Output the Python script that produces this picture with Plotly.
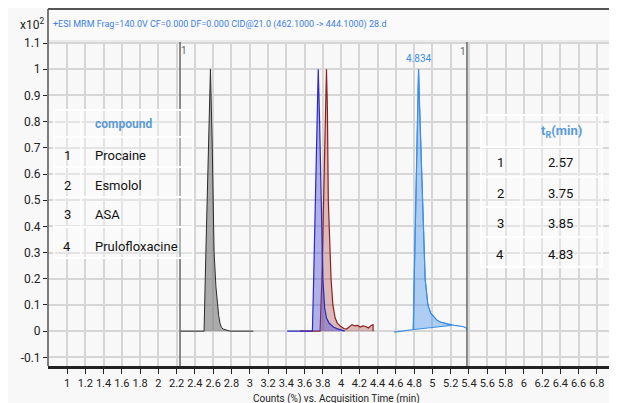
import plotly.graph_objects as go

# ---------------- data ----------------
procaine_x = [2.24, 2.50, 2.52, 2.545, 2.56, 2.57, 2.59, 2.61, 2.63, 2.646, 2.66, 2.675, 2.69, 2.71, 2.75, 2.785, 3.04]
procaine_y = [0, 0, 0.30, 0.70, 0.93, 1.0, 0.70, 0.30, 0.17, 0.10, 0.06, 0.03, 0.015, 0.008, 0.004, 0, 0]

esmolol_x = [3.41, 3.60, 3.686, 3.70, 3.72, 3.74, 3.75, 3.765, 3.78, 3.80, 3.82, 3.84, 3.87, 3.92, 3.97, 4.04]
esmolol_y = [0, 0, 0, 0.2, 0.5, 0.9, 1.0, 0.8, 0.5, 0.2, 0.09, 0.05, 0.03, 0.015, 0.008, 0]

asa_x = [3.55, 3.70, 3.77, 3.79, 3.81, 3.83, 3.84, 3.85, 3.86, 3.89, 3.91, 3.935, 3.96, 3.99, 4.03,
         4.06, 4.09, 4.12, 4.15, 4.18, 4.21, 4.24, 4.27, 4.30, 4.33, 4.35, 4.35]
asa_y = [0, 0, 0, 0.2, 0.5, 0.9, 1.0, 0.85, 0.5, 0.2, 0.1, 0.05, 0.03, 0.02, 0.01,
         0.008, 0.015, 0.025, 0.02, 0.022, 0.016, 0.02, 0.018, 0.012, 0.022, 0.025, 0]

pru_x = [4.58, 4.65, 4.72, 4.79, 4.80, 4.82, 4.84, 4.848, 4.86, 4.895, 4.92, 4.95, 4.98, 5.01, 5.05,
         5.085, 5.12, 5.16, 5.21, 5.24, 5.27, 5.30, 5.34, 5.37, 5.38]
pru_y = [-0.004, 0.0, 0.003, 0.006, 0.2, 0.5, 0.9, 1.0, 0.85, 0.5, 0.2, 0.1, 0.07, 0.057, 0.042,
         0.035, 0.032, 0.026, 0.022, 0.022, 0.021, 0.02, 0.017, 0.012, 0.004]
pru_fill_start, pru_fill_end = 3, 18   # integration region (index range)

peak_label = "4.834"
peak_label_x = 4.848
segment_lines = [2.237, 5.378]

x_ticks = [1, 1.2, 1.4, 1.6, 1.8, 2, 2.2, 2.4, 2.6, 2.8, 3, 3.2, 3.4, 3.6, 3.8, 4, 4.2, 4.4, 4.6, 4.8,
           5, 5.2, 5.4, 5.6, 5.8, 6, 6.2, 6.4, 6.6, 6.8, 7]
x_tick_text = ["1", "1.2", "1.4", "1.6", "1.8", "2", "2.2", "2.4", "2.6", "2.8", "3", "3.2", "3.4", "3.6",
               "3.8", "4", "4.2", "4.4", "4.6", "4.8", "5", "5.2", "5.4", "5.6", "5.8", "6", "6.2", "6.4",
               "6.6", "6.8", "7"]
y_ticks = [-0.1, 0, 0.1, 0.2, 0.3, 0.4, 0.5, 0.6, 0.7, 0.8, 0.9, 1.0, 1.1]
y_tick_text = ["-0.1", "0", "0.1", "0.2", "0.3", "0.4", "0.5", "0.6", "0.7", "0.8", "0.9", "1", "1.1"]

compounds = ["Procaine", "Esmolol", "ASA", "Prulofloxacine"]
compound_ids = ["1", "2", "3", "4"]
retention_times = ["2.57", "3.75", "3.85", "4.83"]

title_text = "+ESI MRM Frag=140.0V CF=0.000 DF=0.000 CID@21.0 (462.1000 -> 444.1000) 28.d"
x_title = "Counts (%) vs. Acquisition Time (min)"

# ---------------- figure ----------------
# the page body has an 8px margin, so the figure is 8px smaller than the window
OFF = 8
W, H = 617 - OFF, 403 - OFF
PL, PR, PT, PB = 48, 617, 42, 366          # plot area edges in window pixels
L, R, T, B = PL - OFF, 617 - PR, PT - OFF, H - (PB - OFF)
NARROW = "Roboto, Arial, sans-serif"
TFONT = "Roboto, Arial, sans-serif"


def px(xp):
    return (xp - PL) / (PR - PL)


def py(yp):
    return (PB - yp) / (PB - PT)


fig = go.Figure()

fig.add_trace(go.Scatter(x=procaine_x, y=procaine_y, mode="lines", fill="tozeroy",
                         fillcolor="rgba(125,125,125,0.62)", line=dict(color="#2b2b2b", width=1)))
fig.add_trace(go.Scatter(x=asa_x, y=asa_y, mode="lines", fill="tozeroy",
                         fillcolor="rgba(165,60,60,0.33)", line=dict(color="#8f1f1f", width=1.2)))
fig.add_trace(go.Scatter(x=esmolol_x, y=esmolol_y, mode="lines", fill="tozeroy",
                         fillcolor="rgba(70,70,210,0.40)", line=dict(color="#2a2ac4", width=1.2)))

fx = pru_x[pru_fill_start:pru_fill_end + 1] + [pru_x[pru_fill_start]]
fy = pru_y[pru_fill_start:pru_fill_end + 1] + [pru_y[pru_fill_start]]
fig.add_trace(go.Scatter(x=fx, y=fy, mode="lines", fill="toself",
                         fillcolor="rgba(70,145,235,0.42)", line=dict(color="#3a8ee6", width=1)))
fig.add_trace(go.Scatter(x=pru_x, y=pru_y, mode="lines", line=dict(color="#3a8ee6", width=1.2)))

shapes = []
# title bar
shapes.append(dict(type="rect", xref="paper", yref="paper", x0=0, x1=px(PR + 5), y0=py(41), y1=py(9),
                   fillcolor="#fafafa", line=dict(color="#dddddd", width=1), layer="above"))
shapes.append(dict(type="line", xref="paper", yref="paper", x0=0, x1=px(PR + 5), y0=py(9), y1=py(9),
                   line=dict(color="#555555", width=2)))
shapes.append(dict(type="line", xref="paper", yref="paper", x0=0, x1=0, y0=py(9), y1=0,
                   line=dict(color="#555555", width=1.5)))
# segment marker lines
for sx in segment_lines:
    shapes.append(dict(type="line", xref="x", yref="paper", x0=sx, x1=sx, y0=0, y1=1,
                       line=dict(color="#666666", width=1.5)))

# left table
lt_rows = [110, 137, 167, 197, 227, 258]
for yy in lt_rows:
    shapes.append(dict(type="line", xref="paper", yref="paper", x0=px(54), x1=px(193), y0=py(yy), y1=py(yy),
                       line=dict(color="white", width=2)))
shapes.append(dict(type="rect", xref="paper", yref="paper", x0=px(54), x1=px(193), y0=py(258), y1=py(110),
                   fillcolor="rgba(255,255,255,0.35)", line=dict(color="white", width=1.5)))
shapes.append(dict(type="line", xref="paper", yref="paper", x0=px(81), x1=px(81), y0=py(258), y1=py(110),
                   line=dict(color="white", width=1.5)))
# right table
rt_rows = [115, 147, 177, 207, 237, 267]
for yy in rt_rows:
    shapes.append(dict(type="line", xref="paper", yref="paper", x0=px(481), x1=px(602), y0=py(yy), y1=py(yy),
                       line=dict(color="white", width=2)))
shapes.append(dict(type="rect", xref="paper", yref="paper", x0=px(481), x1=px(602), y0=py(267), y1=py(115),
                   fillcolor="rgba(255,255,255,0.35)", line=dict(color="white", width=1.5)))
shapes.append(dict(type="line", xref="paper", yref="paper", x0=px(521), x1=px(521), y0=py(267), y1=py(115),
                   line=dict(color="white", width=1.5)))

ann = []
ann.append(dict(xref="paper", yref="paper", x=px(51), y=py(25), text=title_text, showarrow=False,
                xanchor="left", yanchor="middle", font=dict(family=NARROW, size=9, color="#3a7fe0")))
ann.append(dict(xref="paper", yref="paper", x=px(46), y=py(24), text="x10<sup>2</sup>", showarrow=False,
                xanchor="right", yanchor="middle", font=dict(family=NARROW, size=12, color="#222222")))
ann.append(dict(xref="paper", yref="paper", x=px(336), y=py(399), text=x_title, showarrow=False,
                xanchor="center", yanchor="middle", font=dict(family=NARROW, size=10, color="#222222")))
ann.append(dict(xref="x", yref="paper", x=peak_label_x, y=py(58), text=peak_label, showarrow=False,
                xanchor="center", yanchor="middle", font=dict(family=NARROW, size=10, color="#3a8ee6")))
ann.append(dict(xref="x", yref="paper", x=segment_lines[0], y=py(50), text="1", showarrow=False, xshift=4,
                xanchor="center", yanchor="middle", font=dict(family=NARROW, size=10, color="#666666")))
ann.append(dict(xref="x", yref="paper", x=segment_lines[1], y=py(51), text="1", showarrow=False, xshift=-4,
                xanchor="center", yanchor="middle", font=dict(family=NARROW, size=10, color="#666666")))
# last x tick label sits at the very window edge (partly cut off) -> drawn as annotation
ann.append(dict(xref="x", yref="paper", x=x_ticks[-1], y=py(382), text=x_tick_text[-1], showarrow=False,
                xanchor="center", yanchor="middle", font=dict(family=NARROW, size=11, color="#222222")))
axis_tick_text = x_tick_text[:-1] + [""]

# left table text
ann.append(dict(xref="paper", yref="paper", x=px(93), y=py(124), text="<b>compound</b>", showarrow=False,
                xanchor="left", yanchor="middle", font=dict(family=TFONT, size=12, color="#5b9bd5")))
lt_text_y = [155, 185, 215, 246]
for cid, name, yy in zip(compound_ids, compounds, lt_text_y):
    ann.append(dict(xref="paper", yref="paper", x=px(67), y=py(yy), text=cid, showarrow=False,
                    xanchor="center", yanchor="middle", font=dict(family=TFONT, size=13, color="#111111")))
    ann.append(dict(xref="paper", yref="paper", x=px(93), y=py(yy), text=name, showarrow=False,
                    xanchor="left", yanchor="middle", font=dict(family=TFONT, size=13, color="#111111")))

# right table text
ann.append(dict(xref="paper", yref="paper", x=px(561), y=py(131), text="<b>t<sub>R</sub>(min)</b>", showarrow=False,
                xanchor="center", yanchor="middle", font=dict(family=TFONT, size=13, color="#5b9bd5")))
rt_text_y = [162, 193, 223, 254]
for cid, rt, yy in zip(compound_ids, retention_times, rt_text_y):
    ann.append(dict(xref="paper", yref="paper", x=px(500), y=py(yy), text=cid, showarrow=False,
                    xanchor="center", yanchor="middle", font=dict(family=TFONT, size=13, color="#111111")))
    ann.append(dict(xref="paper", yref="paper", x=px(560), y=py(yy), text=rt, showarrow=False,
                    xanchor="center", yanchor="middle", font=dict(family=TFONT, size=13, color="#111111")))

fig.update_layout(
    width=W, height=H,
    margin=dict(l=L, r=R, t=T, b=B, pad=0, autoexpand=False),
    paper_bgcolor="#f8f8f8", plot_bgcolor="#f8f8f8",
    showlegend=False,
    shapes=shapes, annotations=ann,
    xaxis=dict(range=[0.792, 7.02], tickvals=x_ticks, ticktext=axis_tick_text, automargin=False,
               ticklabeloverflow="allow",
               showgrid=True, gridcolor="#d6d6d6", gridwidth=1.5, zeroline=False,
               showline=True, linecolor="#222222", linewidth=2.5, ticks="outside", ticklen=5,
               tickcolor="#222222", tickwidth=1, tickangle=0,
               tickfont=dict(family=NARROW, size=11, color="#222222")),
    yaxis=dict(range=[-0.133, 1.104], tickvals=y_ticks, ticktext=y_tick_text, automargin=False,
               showgrid=True, gridcolor="#d6d6d6", gridwidth=1.5, zeroline=False,
               showline=False, ticks="outside", ticklen=4, tickcolor="#222222", tickwidth=1,
               tickfont=dict(family=NARROW, size=12, color="#222222")),
)

# the figure fills the window exactly; keep the page from showing scrollbars
fig.write_html("out.html",
               post_script="document.documentElement.style.overflow='hidden';document.body.style.overflow='hidden';")
